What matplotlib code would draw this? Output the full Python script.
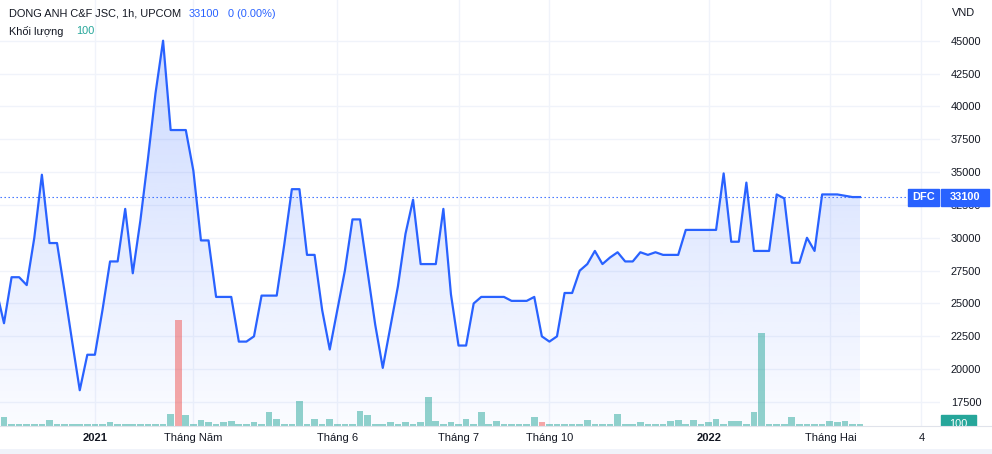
import numpy as np
import matplotlib
matplotlib.use("Agg")
import matplotlib.pyplot as plt
from matplotlib.colors import LinearSegmentedColormap
from matplotlib.patches import Rectangle
from matplotlib.transforms import blended_transform_factory, Bbox, TransformedBbox

plt.rcParams['font.family'] = ['Liberation Sans', 'DejaVu Sans']

""" data read off the chart (1h bars, gaps removed) """
# first value is the bar just left of the visible window
price = [26000,
         23500, 27000, 27000, 26400, 30000, 34800, 29600, 29600, 25900, 22100,
         18400, 21100, 21100, 24500, 28200, 28200, 32200, 27300, 31300, 36000,
         41000, 45000, 38200, 38200, 38200, 35100, 29800, 29800, 25500, 25500,
         25500, 22100, 22100, 22500, 25600, 25600, 25600, 29500, 33700, 33700,
         28700, 28700, 24500, 21500, 24500, 27500, 31400, 31400, 27400, 23400,
         20100, 23200, 26300, 30300, 32900, 28000, 28000, 28000, 32200, 25700,
         21800, 21800, 25000, 25500, 25500, 25500, 25500, 25200, 25200, 25200,
         25500, 22500, 22100, 22500, 25800, 25800, 27500, 28000, 29000, 28000,
         28500, 28900, 28200, 28200, 28900, 28700, 28900, 28700, 28700, 28700,
         30600, 30600, 30600, 30600, 30600, 34900, 29700, 29700, 34200, 29000,
         29000, 29000, 33300, 33000, 28100, 28100, 30000, 29000, 33300, 33300,
         33300, 33200, 33100, 33100]

volume = [100,
          400, 100, 100, 100, 100, 100, 260, 100, 100, 100,
          100, 100, 100, 100, 170, 100, 100, 100, 100, 100,
          100, 100, 530, 4610, 480, 100, 260, 170, 100, 190,
          220, 100, 100, 170, 100, 610, 320, 100, 100, 1090,
          100, 320, 100, 320, 100, 100, 100, 650, 480, 100,
          100, 170, 100, 170, 100, 170, 1260, 220, 100, 170,
          100, 290, 100, 610, 100, 220, 100, 100, 100, 100,
          400, 170, 100, 100, 100, 100, 100, 260, 100, 100,
          100, 530, 100, 100, 170, 100, 100, 100, 220, 260,
          100, 260, 100, 170, 320, 100, 220, 220, 100, 610,
          4040, 100, 100, 100, 400, 100, 100, 100, 100, 220,
          170, 220, 100, 100]

down_bars = [23, 71]   # red volume bars (bar index)

time_ticks = [12, 25, 44, 60, 72, 93.1, 109.1, 121.1]
time_labels = ['2021', 'Tháng Năm', 'Tháng 6', 'Tháng 7', 'Tháng 10', '2022', 'Tháng Hai', '4']
bold_labels = ['2021', '2022']
price_ticks = [17500, 20000, 22500, 25000, 27500, 30000, 32500,
               35000, 37500, 40000, 42500, 45000]

symbol = 'DFC'
title = 'DONG ANH C&F JSC, 1h, UPCOM'
last_vol = 100

""" layout (pixels) """
W, H = 992, 454
pane_bottom = 426
pane_right = 940

blue = '#2962ff'
txt = '#131722'
grid_c = '#f0f3fa'

def fx(px):
    return px / W

def fy(py):
    return 1 - py / H

idx = np.arange(len(price)) - 1
last = price[-1]

fig = plt.figure(figsize=(W / 100, H / 100), dpi=100)
fig.patch.set_facecolor('white')
ax = fig.add_axes([0, fy(pane_bottom), fx(pane_right), pane_bottom / H])

x0, x1 = -0.528, 123.56
y0, y1 = 15677, 48097

# gradient area under the line
poly = ax.fill_between(idx, price, y0, color='none', lw=0)
clip = poly.get_paths()[0]
cmap = LinearSegmentedColormap.from_list('area', [(41/255, 98/255, 1, 0.02), (41/255, 98/255, 1, 0.26)])
grad = np.linspace(0, 1, 256).reshape(-1, 1)
img = ax.imshow(grad, extent=[x0, x1, y0, y1], origin='lower', aspect='auto', cmap=cmap, zorder=1)
img.set_clip_path(clip, transform=ax.transData)

ax.plot(idx, price, color=blue, lw=1.6, zorder=3)
ax.axhline(last, color=blue, lw=0.8, ls=(0, (1.2, 2.4)), zorder=2)

ax.set_xlim(x0, x1)
ax.set_ylim(y0, y1)
for s in ax.spines.values():
    s.set_visible(False)
ax.grid(True, color=grid_c, lw=1)
ax.set_axisbelow(True)

ax.yaxis.tick_right()
ax.set_yticks(price_ticks)
ax.set_yticklabels([str(p) for p in price_ticks])
ax.tick_params(axis='y', length=0, pad=7.9, labelsize=7.9, labelcolor=txt)

ax.set_xticks(time_ticks)
ax.set_xticklabels(time_labels)
ax.tick_params(axis='x', length=0, pad=5, labelsize=8, labelcolor=txt)
for lab in ax.get_xticklabels():
    if lab.get_text() in bold_labels:
        lab.set_fontweight('bold')

# last price labels
tr = blended_transform_factory(ax.transAxes, ax.transData)
bh = 17 / 32.85 * 2500
ax.add_patch(Rectangle((908 / pane_right, last - bh / 2), 31 / pane_right, bh,
                       transform=tr, color=blue, clip_on=False, zorder=6))
ax.text(923.5 / pane_right, last, symbol, transform=tr, color='white', fontsize=7.9,
        fontweight='bold', ha='center', va='center', clip_on=False, zorder=7)
ax.add_patch(Rectangle((941 / pane_right, last - bh / 2), 48 / pane_right, bh,
                       transform=tr, color=blue, clip_on=False, zorder=6))
ax.text(965 / pane_right, last, str(last), transform=tr, color='white', fontsize=7.9,
        fontweight='bold', ha='center', va='center', clip_on=False, zorder=7)

# volume overlay
axv = fig.add_axes(ax.get_position(), facecolor='none')
axv.set_xlim(x0, x1)
axv.set_ylim(0, pane_bottom / 2.3 * 100)
axv.axis('off')
cols = []
for i in idx:
    if i in down_bars:
        cols.append((239/255, 83/255, 80/255, 0.5))
    else:
        cols.append((38/255, 166/255, 154/255, 0.5))
axv.bar(idx, volume, width=0.88, color=cols, lw=0)

vt = blended_transform_factory(axv.transAxes, axv.transData)
vh = 17 * 100 / 2.3
pane_box = TransformedBbox(Bbox([[0, fy(pane_bottom)], [1, 1]]), fig.transFigure)
r = Rectangle((941 / pane_right, last_vol - vh / 2), 35 / pane_right, vh, transform=vt, color='#26a69a')
axv.add_patch(r)
r.set_clip_path(None)
r.set_clip_box(pane_box)
t = axv.text(958.5 / pane_right, last_vol, str(last_vol), transform=vt, color='white', fontsize=7.9,
             ha='center', va='center')
t.set_clip_on(True)
t.set_clip_path(None)
t.set_clip_box(pane_box)

# header
fig.text(fx(9), fy(14), title, fontsize=7.9, color=txt, va='center')
fig.text(fx(189), fy(14), '33100', fontsize=7.9, color=blue, va='center')
fig.text(fx(228), fy(14), '0 (0.00%)', fontsize=7.9, color=blue, va='center')
fig.text(fx(9), fy(31.5), 'Khối lượng', fontsize=7.9, color=txt, va='center')
fig.text(fx(76), fy(31.5), str(last_vol), fontsize=7.9, color='#26a69a', va='center')
fig.text(fx(952), fy(13), 'VND', fontsize=7.9, color=txt, va='center')

# pane borders
fig.add_artist(plt.Line2D([0, 1], [fy(pane_bottom), fy(pane_bottom)], color='#e0e3eb', lw=0.8))
fig.add_artist(Rectangle((0, 0), 1, fy(449), transform=fig.transFigure, color='#f0f3fa', lw=0))

fig.savefig('out.png', dpi=100)
